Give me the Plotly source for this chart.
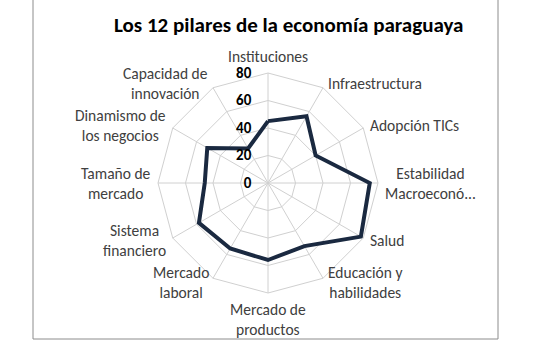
import math
import plotly.graph_objects as go

# Pillar names (clockwise from the top) and their scores
pilares = [
    "Instituciones",
    "Infraestructura",
    "Adopción TICs",
    "Estabilidad<br>Macroeconó...",
    "Salud",
    "Educación y<br>habilidades",
    "Mercado de<br>productos",
    "Mercado<br>laboral",
    "Sistema<br>financiero",
    "Tamaño de<br>mercado",
    "Dinamismo de<br>los negocios",
    "Capacidad de<br>innovación",
]
puntajes = [45, 56, 40, 74, 78, 53, 56, 55, 58, 46, 51, 29]
marcas_radiales = [0, 20, 40, 60, 80]

W, H = 540, 344
cx, cy, R = 268, 183, 110
FONT = "Carlito, Calibri, Lato, sans-serif"

fig = go.Figure()
fig.add_trace(go.Scatterpolar(
    r=puntajes + puntajes[:1],
    theta=pilares + pilares[:1],
    mode="lines",
    line=dict(color="#1a2940", width=4),
    showlegend=False,
))

# category labels placed just outside the outer ring, anchored by direction
etiquetas = []
n = len(pilares)
r_lab = R + 5
for i, nombre in enumerate(pilares):
    ang = 2 * math.pi * i / n
    s, c = math.sin(ang), math.cos(ang)
    px = cx + r_lab * s
    py = cy - r_lab * c
    xa = "left" if s > 0.01 else ("right" if s < -0.01 else "center")
    ya = "bottom" if c > 0.99 else ("top" if c < -0.99 else "middle")
    etiquetas.append(dict(
        text=nombre, xref="paper", yref="paper",
        x=px / W, y=(H - py) / H, xanchor=xa, yanchor=ya,
        align="center", showarrow=False,
        font=dict(size=15.5, color="#404040", family=FONT),
    ))

fig.update_layout(
    width=W, height=H,
    margin=dict(l=0, r=0, t=0, b=0),
    paper_bgcolor="white",
    font=dict(family=FONT, color="#404040"),
    polar=dict(
        domain=dict(x=[(cx - R) / W, (cx + R) / W],
                    y=[(H - cy - R) / H, (H - cy + R) / H]),
        gridshape="linear",
        bgcolor="white",
        angularaxis=dict(
            direction="clockwise", rotation=90,
            showline=True, linecolor="#d0d0d0", linewidth=1,
            gridcolor="#d0d0d0", gridwidth=1,
            ticks="", showticklabels=False,
        ),
        radialaxis=dict(
            range=[0, 80], tickvals=marcas_radiales,
            angle=90, side="counterclockwise",
            showline=False,
            ticks="outside", ticklen=11, tickcolor="rgba(0,0,0,0)",
            gridcolor="#d0d0d0", gridwidth=1,
            tickfont=dict(size=15, color="#000000", family=FONT, weight="bold"),
            tickangle=90,
        ),
    ),
    shapes=[dict(type="rect", xref="paper", yref="paper",
                 x0=33 / W, x1=498 / W, y0=(H - 339) / H, y1=1.02,
                 line=dict(color="#8c8c8c", width=1))],
    annotations=[dict(text="<b>Los 12 pilares de la economía paraguaya</b>",
                      xref="paper", yref="paper", x=288 / W, y=(H - 25) / H,
                      xanchor="center", yanchor="middle", showarrow=False,
                      font=dict(size=21, color="#000000"))] + etiquetas,
)

fig.write_html("out.html")
